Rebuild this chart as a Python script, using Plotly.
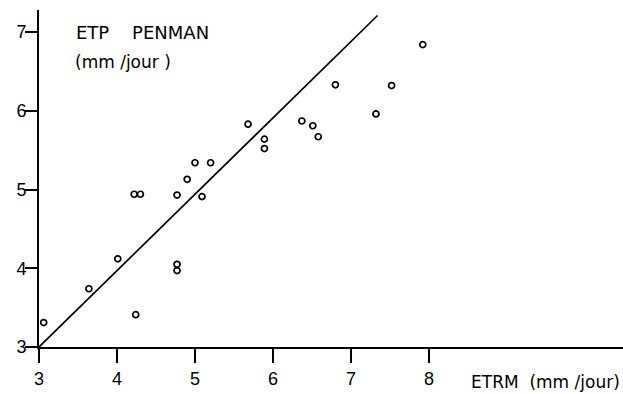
import plotly.graph_objects as go

# Data
etrm = [3.06, 3.64, 4.01, 4.22, 4.30, 4.24, 4.77, 4.77, 4.77, 4.90, 5.00, 5.09,
        5.20, 5.68, 5.89, 5.89, 6.37, 6.51, 6.58, 6.80, 7.32, 7.52, 7.92]
etp = [3.31, 3.74, 4.12, 4.94, 4.94, 3.41, 4.93, 4.05, 3.97, 5.13, 5.34, 4.91,
       5.34, 5.83, 5.64, 5.52, 5.87, 5.81, 5.67, 6.33, 5.96, 6.32, 6.84]

line_x = [3.0, 7.34]
line_y = [3.0, 7.21]

x_ticks = [3, 4, 5, 6, 7, 8]
y_ticks = [3, 4, 5, 6, 7]

FONT = "DejaVu Sans, Liberation Sans, sans-serif"
TFONT = "Liberation Sans, Arial, sans-serif"

fig = go.Figure()
fig.add_trace(go.Scatter(x=line_x, y=line_y, mode="lines",
                         line=dict(color="black", width=1.7), hoverinfo="skip"))
fig.add_trace(go.Scatter(x=etrm, y=etp, mode="markers",
                         marker=dict(symbol="circle-open", size=6, color="black",
                                     line=dict(width=1.7, color="black"))))

fig.update_layout(
    width=623, height=394,
    margin=dict(l=39, r=0, t=10, b=47),
    paper_bgcolor="white", plot_bgcolor="white",
    showlegend=False,
    font=dict(family=FONT, color="black"),
    xaxis=dict(range=[3, 10.487], tickvals=x_ticks, ticktext=[str(v) for v in x_ticks],
               showgrid=False, zeroline=False, showline=True, linecolor="black",
               linewidth=2, ticks="outside", ticklen=14, tickwidth=2, tickcolor="black",
               tickfont=dict(size=18, family=TFONT, color="black")),
    yaxis=dict(range=[3, 7.28], tickvals=y_ticks, ticktext=[str(v) for v in y_ticks],
               showgrid=False, zeroline=False, showline=True, linecolor="black",
               linewidth=2, ticks="outside", ticklen=12, tickwidth=1.5, tickcolor="black",
               ticklabelstandoff=-5,
               tickfont=dict(size=18, family=TFONT, color="black")),
    annotations=[
        dict(text="ETP&nbsp;&nbsp;&nbsp;&nbsp;PENMAN", xref="paper", yref="paper", x=0.060, y=0.932,
             xanchor="left", yanchor="middle", showarrow=False,
             font=dict(size=18, family=FONT, color="black")),
        dict(text="(mm /jour )", xref="paper", yref="paper", x=0.058, y=0.846,
             xanchor="left", yanchor="middle", showarrow=False,
             font=dict(size=17, family=FONT, color="black")),
        dict(text="ETRM&nbsp;&nbsp;(mm /jour)", xref="paper", yref="paper", x=0.737, y=-0.103,
             xanchor="left", yanchor="middle", showarrow=False,
             font=dict(size=17, family=FONT, color="black")),
    ],
)

fig.write_html("out.html")
